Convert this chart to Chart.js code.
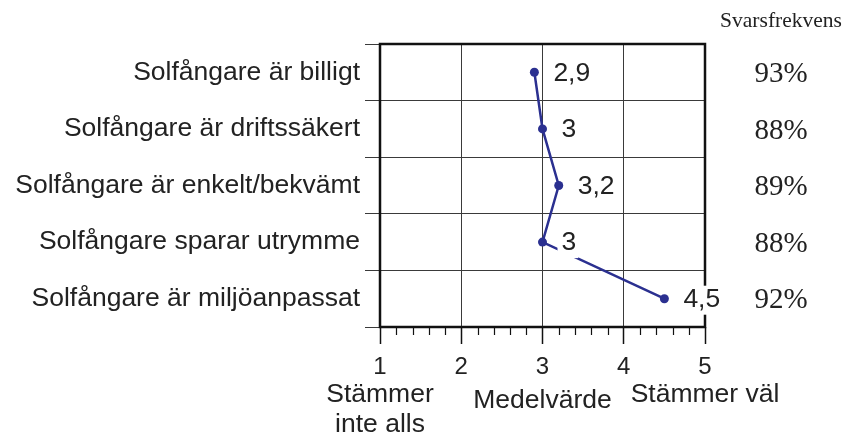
<!DOCTYPE html>
<html>
<head>
<meta charset="utf-8">
<script src="https://cdn.jsdelivr.net/npm/chart.js@4.4.0/dist/chart.umd.min.js"></script>
<style>
  html, body { margin: 0; padding: 0; background: #fff; }
  #chart { display: block; }
</style>
</head>
<body>
<canvas id="chart" width="844" height="435"></canvas>
<script>
// ===== Data =====
const statements = [
  'Solfångare är billigt',
  'Solfångare är driftssäkert',
  'Solfångare är enkelt/bekvämt',
  'Solfångare sparar utrymme',
  'Solfångare är miljöanpassat'
];
const means = [2.9, 3, 3.2, 3, 4.5];
const responseRates = ['93%', '88%', '89%', '88%', '92%'];
const responseTitle = 'Svarsfrekvens';
const axisMin = 1;
const axisMax = 5;
const minorStep = 0.2;
const lowAnchor = ['Stämmer', 'inte alls'];
const midAnchor = ['Medelvärde'];
const highAnchor = ['Stämmer väl'];

// ===== Styles =====
const BLUE = '#2b3090';
const INK = '#222';
const SANS = '"Liberation Sans", Arial, Helvetica, sans-serif';
const SERIF = '"Liberation Serif", "Times New Roman", serif';

const isMajor = (v) => Math.abs(v - Math.round(v)) < 1e-6;
const fmt = (v) => String(v).replace('.', ',');

const decorPlugin = {
  id: 'decor',
  beforeDatasetsDraw(chart) {
    const { ctx, chartArea: a } = chart;
    const xs = chart.scales.x;
    ctx.save();
    // frame
    ctx.strokeStyle = '#111';
    ctx.lineWidth = 2.5;
    ctx.strokeRect(a.left, a.top, a.right - a.left, a.bottom - a.top);
    // minor ticks under the axis
    ctx.lineWidth = 1.2;
    ctx.beginPath();
    for (const t of xs.ticks) {
      if (isMajor(t.value)) continue;
      const px = Math.round(xs.getPixelForValue(t.value)) + 0.5;
      ctx.moveTo(px, a.bottom);
      ctx.lineTo(px, a.bottom + 8);
    }
    ctx.stroke();
    ctx.restore();
  },
  afterDatasetsDraw(chart) {
    const { ctx, chartArea: a } = chart;
    const ys = chart.scales.y;
    const xs = chart.scales.x;
    const meta = chart.getDatasetMeta(0);
    ctx.save();

    // value labels with white backing
    ctx.font = '26.5px ' + SANS;
    ctx.textAlign = 'left';
    ctx.textBaseline = 'middle';
    meta.data.forEach((pt, i) => {
      const txt = fmt(means[i]);
      const tx = pt.x + 19;
      const ty = pt.y + 1;
      const w = ctx.measureText(txt).width;
      ctx.fillStyle = '#fff';
      ctx.fillRect(tx - 4, ty - 14, w + 6, 29);
      ctx.fillStyle = INK;
      ctx.fillText(txt, tx, ty);
    });

    // response rate column
    const colX = a.right + 76;
    ctx.textAlign = 'center';
    ctx.font = '21.5px ' + SERIF;
    ctx.textBaseline = 'alphabetic';
    ctx.fillText(responseTitle, colX, 27);
    ctx.font = '29px ' + SERIF;
    ctx.textBaseline = 'middle';
    responseRates.forEach((r, i) => {
      ctx.fillText(r, colX, ys.getPixelForValue(i) + 2);
    });

    // scale anchors below the axis
    ctx.font = '26.5px ' + SANS;
    ctx.textBaseline = 'alphabetic';
    lowAnchor.forEach((s, i) => ctx.fillText(s, xs.getPixelForValue(axisMin), 402 + i * 30));
    midAnchor.forEach((s, i) => ctx.fillText(s, xs.getPixelForValue((axisMin + axisMax) / 2), 408 + i * 30));
    highAnchor.forEach((s, i) => ctx.fillText(s, xs.getPixelForValue(axisMax), 402 + i * 30));

    ctx.restore();
  }
};

new Chart(document.getElementById('chart'), {
  type: 'line',
  data: {
    labels: statements,
    datasets: [{
      data: means,
      borderColor: BLUE,
      backgroundColor: BLUE,
      borderWidth: 2.5,
      pointRadius: 4.5,
      pointBorderWidth: 0,
      tension: 0
    }]
  },
  options: {
    responsive: false,
    animation: false,
    indexAxis: 'y',
    layout: { padding: { top: 44, right: 139, left: 0, bottom: 0 } },
    scales: {
      x: {
        type: 'linear',
        position: 'bottom',
        min: axisMin,
        max: axisMax,
        border: { display: false },
        grid: {
          color: (c) => isMajor(c.tick.value) ? '#3a3a3a' : 'rgba(0,0,0,0)',
          lineWidth: 1,
          tickLength: 17,
          tickWidth: 1.5,
          tickColor: (c) => isMajor(c.tick.value) ? '#111' : 'rgba(0,0,0,0)'
        },
        ticks: {
          stepSize: minorStep,
          autoSkip: false,
          maxRotation: 0,
          padding: 9,
          color: INK,
          font: { family: SANS, size: 24 },
          callback: (v) => isMajor(v) ? String(Math.round(v)) : ''
        },
        afterFit: (s) => { s.height = 108; }
      },
      y: {
        type: 'category',
        offset: true,
        border: { display: false },
        grid: {
          offset: true,
          color: '#3a3a3a',
          lineWidth: 1,
          tickLength: 15,
          tickColor: '#3a3a3a'
        },
        ticks: {
          padding: 5,
          color: INK,
          font: { family: SANS, size: 26.5 }
        },
        afterFit: (s) => { s.width = 380; }
      }
    },
    plugins: {
      legend: { display: false },
      tooltip: { enabled: false }
    }
  },
  plugins: [decorPlugin]
});
</script>
</body>
</html>
